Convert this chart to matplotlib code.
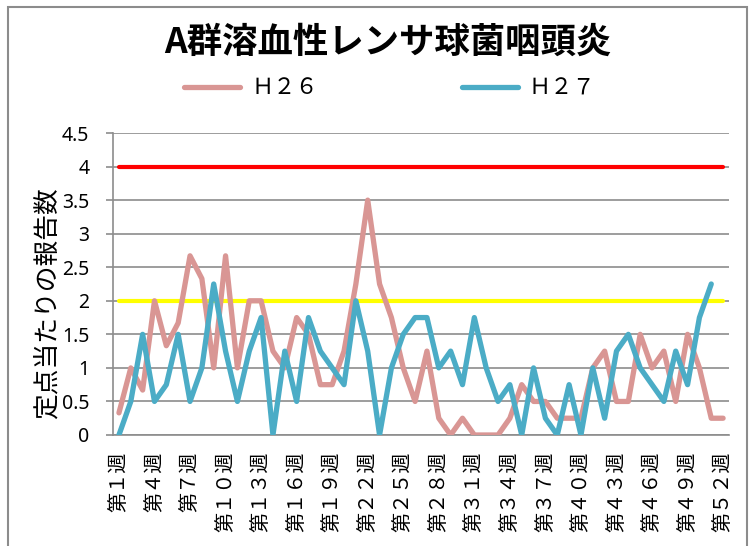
import matplotlib
matplotlib.use("Agg")
import matplotlib.pyplot as plt
from matplotlib.patches import Rectangle

plt.rcParams['font.family'] = ['Noto Sans CJK JP', 'DejaVu Sans']

# weekly reports per sentinel site
weeks_h26 = list(range(1, 53))
h26 = [0.33, 1.0, 0.67, 2.0, 1.33, 1.67, 2.67, 2.33, 1.0, 2.67,
       1.0, 2.0, 2.0, 1.25, 1.0, 1.75, 1.5, 0.75, 0.75, 1.25,
       2.25, 3.5, 2.25, 1.75, 1.0, 0.5, 1.25, 0.25, 0, 0.25,
       0, 0, 0, 0.25, 0.75, 0.5, 0.5, 0.25, 0.25, 0.25,
       1.0, 1.25, 0.5, 0.5, 1.5, 1.0, 1.25, 0.5, 1.5, 1.0,
       0.25, 0.25]
weeks_h27 = list(range(1, 52))
h27 = [0, 0.5, 1.5, 0.5, 0.75, 1.5, 0.5, 1.0, 2.25, 1.25,
       0.5, 1.25, 1.75, 0, 1.25, 0.5, 1.75, 1.25, 1.0, 0.75,
       2.0, 1.25, 0, 1.0, 1.5, 1.75, 1.75, 1.0, 1.25, 0.75,
       1.75, 1.0, 0.5, 0.75, 0, 1.0, 0.25, 0, 0.75, 0,
       1.0, 0.25, 1.25, 1.5, 1.0, 0.75, 0.5, 1.25, 0.75, 1.75,
       2.25]

# alert / warning levels
alert_level = 4
warning_level = 2

tick_weeks = [1, 4, 7, 10, 13, 16, 19, 22, 25, 28, 31, 34, 37, 40, 43, 46, 49, 52]
tick_labels = ["第１週", "第４週", "第７週", "第１０週", "第１３週", "第１６週",
               "第１９週", "第２２週", "第２５週", "第２８週", "第３１週", "第３４週",
               "第３７週", "第４０週", "第４３週", "第４６週", "第４９週", "第５２週"]
y_ticks = [0, 0.5, 1, 1.5, 2, 2.5, 3, 3.5, 4, 4.5]
y_labels = ["0", "0.5", "1", "1.5", "2", "2.5", "3", "3.5", "4", "4.5"]

fig = plt.figure(figsize=(7.55, 5.46), dpi=100)
ax = fig.add_axes([0.1497, 0.2033, 0.8159, 0.5531])

grid_c = "#8c8c8c"
ax.plot(weeks_h26, [alert_level] * len(weeks_h26), color="#ff0000", lw=3.0,
        solid_capstyle="round", zorder=2)
ax.plot(weeks_h26, [warning_level] * len(weeks_h26), color="#ffff00", lw=3.0,
        solid_capstyle="round", zorder=2)
ax.plot(weeks_h26, h26, color="#d99694", lw=3.8, label="Ｈ２６",
        solid_capstyle="round", solid_joinstyle="round", zorder=3)
ax.plot(weeks_h27, h27, color="#4bacc6", lw=3.8, label="Ｈ２７",
        solid_capstyle="round", solid_joinstyle="round", zorder=4)

ax.set_xlim(0.5, 52.5)
ax.set_ylim(0, 4.5)
ax.set_yticks(y_ticks)
ax.set_yticklabels(y_labels, family=["Noto Sans", "DejaVu Sans"], fontsize=14)
ax.set_xticks(tick_weeks)
ax.set_xticklabels(tick_labels, rotation=90, fontsize=14.5, va="top", ha="center")
ax.tick_params(axis="y", length=5, color=grid_c, width=1.2, pad=12)
ax.tick_params(axis="x", length=0, pad=12)
ax.grid(axis="y", color=grid_c, lw=1.2, zorder=1)
for s in ["top", "right"]:
    ax.spines[s].set_visible(False)
for s in ["left", "bottom"]:
    ax.spines[s].set_color(grid_c)
    ax.spines[s].set_linewidth(1.2)

fig.text(48 / 755, 1 - 303 / 546, "定点当たりの報告数", rotation=90,
         fontsize=18.5, ha="center", va="center")
fig.text(388 / 755, 1 - 42 / 546, "A群溶血性レンサ球菌咽頭炎",
         fontsize=25.5, fontweight="bold", ha="center", va="center")

fig.legend(loc="center", bbox_to_anchor=(390 / 755, 1 - 88 / 546), ncol=2,
           frameon=False, fontsize=16, handlelength=2.5, handletextpad=0.5,
           columnspacing=6.5)

fig.patches.append(Rectangle((8 / 755, -0.05), 739 / 755, 1.05 - 7 / 546,
                             transform=fig.transFigure, fill=False,
                             edgecolor="#8c8c8c", lw=1.5))

plt.savefig("out.png", dpi=100)
